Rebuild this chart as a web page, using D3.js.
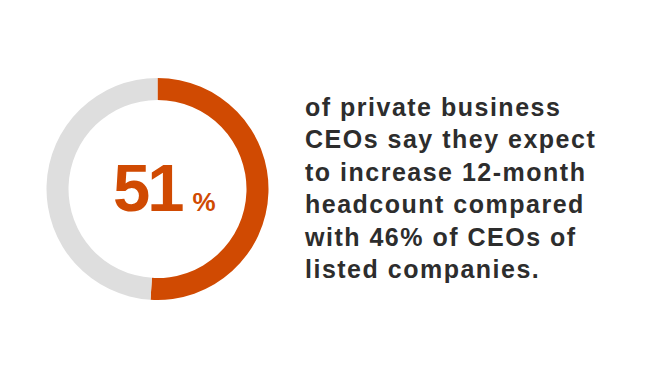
<!DOCTYPE html>
<html>
<head>
<meta charset="utf-8">
<script src="https://cdn.jsdelivr.net/npm/d3@7"></script>
<style>
  body { margin: 0; background: #fff; }
  svg { display: block; }
</style>
</head>
<body>
<div id="container"></div>
<script>
/* DATA */
const shareLabels = ["private", "rest"];
const shareValues = [51, 49];
const bigNumber = "51";
const bigUnit = "%";
const textLines = [
  "of private business",
  "CEOs say they expect",
  "to increase 12-month",
  "headcount compared",
  "with 46% of CEOs of",
  "listed companies."
];

/* CONSTANTS */
const width = 670, height = 377;
const cx = 157.5, cy = 189, outerR = 111, innerR = 89;
const colors = { private: "#d04a02", rest: "#dedede" };

const svg = d3.select("#container")
  .append("svg")
  .attr("width", width)
  .attr("height", height);

// DONUT
const pie = d3.pie().sort(null).value(d => d.value);
const arcGen = d3.arc().innerRadius(innerR).outerRadius(outerR);

const slices = pie(shareLabels.map((k, i) => ({ key: k, value: shareValues[i] })));

svg.append("g")
  .attr("transform", `translate(${cx},${cy})`)
  .selectAll("path")
  .data(slices)
  .join("path")
  .attr("d", arcGen)
  .attr("fill", d => colors[d.data.key]);

// BIG NUMBER
const big = svg.append("text")
  .attr("x", 113)
  .attr("y", 211)
  .attr("fill", colors.private)
  .attr("font-family", "'Liberation Sans', Arial, sans-serif")
  .attr("font-weight", "bold");
big.append("tspan")
  .attr("font-size", 67)
  .attr("letter-spacing", -3)
  .text(bigNumber);
big.append("tspan")
  .attr("dx", 11)
  .attr("font-size", 26)
  .text(bigUnit);

// DESCRIPTION
svg.append("g")
  .selectAll("text")
  .data(textLines)
  .join("text")
  .attr("x", 305)
  .attr("y", (d, i) => 116 + i * 32.4)
  .attr("fill", "#2d2d2d")
  .attr("font-family", "'Liberation Sans', Arial, sans-serif")
  .attr("font-weight", "bold")
  .attr("font-size", 25)
  .attr("letter-spacing", 1.5)
  .text(d => d);
</script>
</body>
</html>
